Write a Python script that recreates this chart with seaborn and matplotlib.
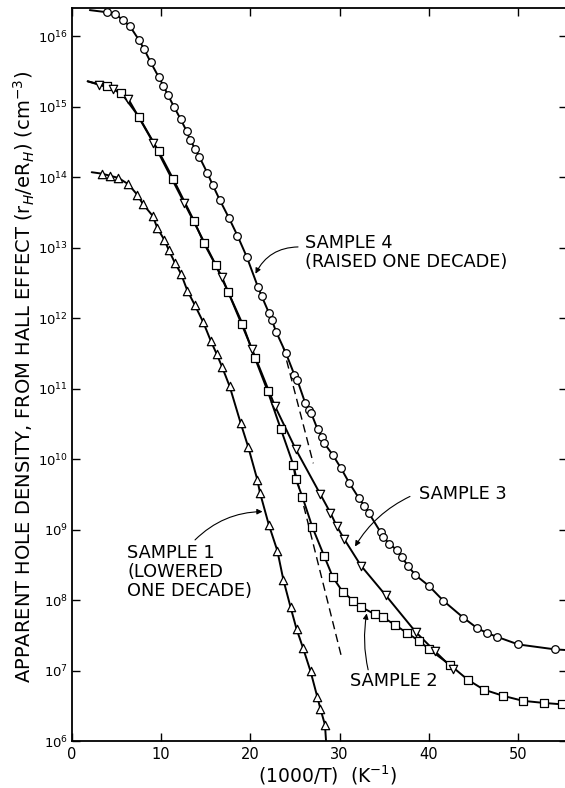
import numpy as np
import pandas as pd
import matplotlib
matplotlib.use("Agg")
import matplotlib.pyplot as plt
import seaborn as sns

# ---------------- data ----------------
# x = 1000/T (K^-1), values stored as log10 of apparent hole density (cm^-3)
s1_x = [3.33, 4.26, 5.19, 6.31, 7.32, 7.94, 9.05, 9.56, 10.35, 10.87, 11.55, 12.22,
        12.93, 13.79, 14.72, 15.55, 16.22, 16.82, 17.68, 18.91, 19.76, 20.77, 21.08,
        22.06, 23.02, 23.69, 24.50, 25.17, 25.90, 26.74, 27.49, 27.84, 28.36]
s1_log = [14.05, 14.02, 13.99, 13.90, 13.75, 13.62, 13.45, 13.28, 13.11, 12.96, 12.78,
          12.63, 12.39, 12.18, 11.94, 11.68, 11.49, 11.31, 11.03, 10.51, 10.17, 9.71,
          9.52, 9.07, 8.70, 8.29, 7.90, 7.59, 7.32, 6.99, 6.63, 6.46, 6.23]

s2_x = [3.89, 5.49, 7.48, 9.70, 11.36, 13.68, 14.80, 16.11, 17.51, 19.11, 20.52, 21.92,
        23.40, 24.81, 25.08, 25.84, 26.96, 28.25, 29.26, 30.33, 31.54, 32.43, 33.93,
        34.81, 36.18, 37.59, 38.92, 40.06, 42.38, 44.36, 46.15, 48.36, 50.56, 52.91, 54.93]
s2_log = [15.29, 15.20, 14.86, 14.37, 13.97, 13.38, 13.06, 12.75, 12.37, 11.92, 11.43,
          10.97, 10.43, 9.92, 9.72, 9.46, 9.03, 8.63, 8.32, 8.12, 7.99, 7.90, 7.80, 7.76,
          7.65, 7.53, 7.42, 7.30, 7.08, 6.87, 6.73, 6.64, 6.57, 6.54, 6.52]

s3_x = [3.06, 4.63, 6.31, 9.11, 12.56, 16.82, 20.18, 22.76, 25.08, 27.80, 28.96, 29.67,
        30.49, 32.38, 35.15, 38.51, 40.72, 42.75]
s3_log = [15.31, 15.25, 15.11, 14.49, 13.64, 12.58, 11.56, 10.75, 10.14, 9.51, 9.24,
          9.05, 8.87, 8.49, 8.07, 7.55, 7.27, 7.02]

s4_x = [3.89, 4.82, 5.68, 6.50, 7.54, 8.07, 8.82, 9.72, 10.24, 10.73, 11.43, 12.19,
        12.86, 13.23, 13.82, 14.27, 15.17, 15.77, 16.59, 17.60, 18.55, 19.59, 20.85,
        21.27, 22.09, 22.39, 22.87, 23.99, 24.92, 25.26, 26.16, 26.60, 26.82, 27.54,
        27.99, 28.25, 29.23, 30.16, 31.09, 32.14, 32.77, 33.30, 34.61, 34.90, 35.57,
        36.40, 36.96, 37.70, 38.45, 40.02, 41.63, 43.87, 45.44, 46.56, 47.61, 50.03, 54.15]
s4_log = [16.34, 16.32, 16.23, 16.14, 15.94, 15.82, 15.63, 15.42, 15.30, 15.17, 15.00,
          14.82, 14.65, 14.53, 14.40, 14.29, 14.06, 13.89, 13.67, 13.42, 13.17, 12.87,
          12.44, 12.31, 12.07, 11.98, 11.81, 11.50, 11.20, 11.12, 10.79, 10.70, 10.65,
          10.42, 10.32, 10.23, 10.06, 9.87, 9.66, 9.45, 9.34, 9.23, 8.96, 8.89, 8.80,
          8.71, 8.61, 8.48, 8.36, 8.20, 7.99, 7.75, 7.60, 7.53, 7.48, 7.37, 7.30]

# fitted-curve end points (start, end)
s1_curve_ends_x = [2.21, 28.48]
s1_curve_ends_log = [14.07, 6.0]
s2_curve_ends_x = [1.76, 55.46]
s2_curve_ends_log = [15.36, 6.52]
s3_curve_start_x = [1.76]
s3_curve_start_log = [15.36]
s4_curve_ends_x = [2.0, 55.46]
s4_curve_ends_log = [16.37, 7.29]

# dashed extrapolation lines
dashA_x = [23.69, 27.05]
dashA_log = [11.58, 9.94]
dashB_x = [24.9, 30.2]
dashB_log = [9.88, 7.20]

x_ticks = [0, 10, 20, 30, 40, 50]
y_exponents = list(range(6, 17))

# ---------------- figure ----------------
sns.set_style("ticks")
plt.rcParams["font.family"] = ["DejaVu Sans"]
plt.rcParams["mathtext.fontset"] = "dejavusans"
plt.rcParams["text.color"] = "black"
plt.rcParams["axes.labelcolor"] = "black"
plt.rcParams["xtick.color"] = "black"
plt.rcParams["ytick.color"] = "black"

W, H = 565, 788
fig = plt.figure(figsize=(W / 100, H / 100), dpi=100)
ax = fig.add_axes([72 / W, 47 / H, (566.7 - 72) / W, 733 / H])
ax.set_yscale("log")


def curve(xs, logs, start=None, end=None):
    cx = list(xs)
    cl = list(logs)
    if start is not None:
        cx = [start[0]] + cx
        cl = [start[1]] + cl
    if end is not None:
        cx = cx + [end[0]]
        cl = cl + [end[1]]
    return pd.DataFrame({"x": cx, "n": 10 ** np.array(cl)})


line_kw = dict(color="black", lw=1.4, sort=False, estimator=None, legend=False, zorder=2)

d1 = curve(s1_x, s1_log, (s1_curve_ends_x[0], s1_curve_ends_log[0]),
           (s1_curve_ends_x[1], s1_curve_ends_log[1]))
d2 = curve(s2_x, s2_log, (s2_curve_ends_x[0], s2_curve_ends_log[0]),
           (s2_curve_ends_x[1], s2_curve_ends_log[1]))
d3 = curve(s3_x, s3_log, (s3_curve_start_x[0], s3_curve_start_log[0]))
d4 = curve(s4_x, s4_log, (s4_curve_ends_x[0], s4_curve_ends_log[0]),
           (s4_curve_ends_x[1], s4_curve_ends_log[1]))

for d in (d1, d2, d3, d4):
    sns.lineplot(data=d, x="x", y="n", ax=ax, **line_kw)

for dx, dl in ((dashA_x, dashA_log), (dashB_x, dashB_log)):
    dd = pd.DataFrame({"x": dx, "n": 10 ** np.array(dl)})
    sns.lineplot(data=dd, x="x", y="n", ax=ax, color="black", lw=1.0,
                 linestyle=(0, (6, 3.5)), sort=False, estimator=None, legend=False)

mk_kw = dict(facecolor="white", edgecolor="black", linewidth=0.9, zorder=3, legend=False)
sns.scatterplot(x=s1_x, y=10 ** np.array(s1_log), marker="^", s=36, ax=ax, **mk_kw)
sns.scatterplot(x=s2_x, y=10 ** np.array(s2_log), marker="s", s=26, ax=ax, **mk_kw)
sns.scatterplot(x=s3_x, y=10 ** np.array(s3_log), marker="v", s=36, ax=ax, **mk_kw)
sns.scatterplot(x=s4_x, y=10 ** np.array(s4_log), marker="o", s=30, ax=ax, **mk_kw)

# ---------------- axes ----------------
ax.set_xlim(0, 55.46)
ax.set_ylim(1e6, 10 ** 16.40)
ax.set_xticks(x_ticks)
ax.set_xticklabels([str(t) for t in x_ticks])
ax.set_yticks([10.0 ** k for k in y_exponents])
ax.set_yticklabels([r"$10^{%d}$" % k for k in y_exponents])
ax.minorticks_off()
ax.yaxis.set_minor_locator(matplotlib.ticker.NullLocator())
ax.tick_params(which="major", direction="in", length=6, width=1.0,
               top=True, right=True, labelsize=10.5, pad=4,
               colors="black", labelcolor="black")
ax.tick_params(axis="y", labelsize=9.5, pad=3)
for sp in ax.spines.values():
    sp.set_linewidth(1.3)
    sp.set_color("black")

ax.set_xlabel(r"(1000/T)  (K$^{-1}$)", fontsize=13.5, va="center", color="black")
ax.xaxis.set_label_coords(0.517, -0.047)
ax.set_ylabel(r"APPARENT HOLE DENSITY, FROM HALL EFFECT (r$_H$/eR$_H$) (cm$^{-3}$)",
              fontsize=14.0, va="center", color="black")
ax.yaxis.set_label_coords(-0.097, 0.497)

# ---------------- annotations ----------------
tfs = 12.8
ls = 1.07
ax.text(26.12, 10 ** 12.93, "SAMPLE 4\n(RAISED ONE DECADE)", fontsize=tfs,
        ha="left", va="center", linespacing=ls, color="black")
ax.text(38.9, 10 ** 9.50, "SAMPLE 3", fontsize=tfs, ha="left", va="center", color="black")
ax.text(31.17, 10 ** 6.85, "SAMPLE 2", fontsize=tfs, ha="left", va="center", color="black")
ax.text(6.17, 10 ** 8.392, "SAMPLE 1\n(LOWERED\nONE DECADE)", fontsize=tfs,
        ha="left", va="center", linespacing=ls, color="black")

arrows = [
    ((20.57, 12.63), (25.34, 13.01), 0.3),
    ((31.73, 8.76), (37.89, 9.47), 0.15),
    ((33.04, 7.81), (33.20, 7.01), -0.1),
    ((21.36, 9.255), (13.79, 8.853), -0.2),
]
for tip, tail, rad in arrows:
    ax.annotate("", xy=(tip[0], 10 ** tip[1]), xytext=(tail[0], 10 ** tail[1]),
                arrowprops=dict(arrowstyle="-|>", color="black", lw=0.8,
                                mutation_scale=8, shrinkA=0, shrinkB=0,
                                connectionstyle="arc3,rad=%g" % rad))

fig.savefig("out.png", dpi=100)
